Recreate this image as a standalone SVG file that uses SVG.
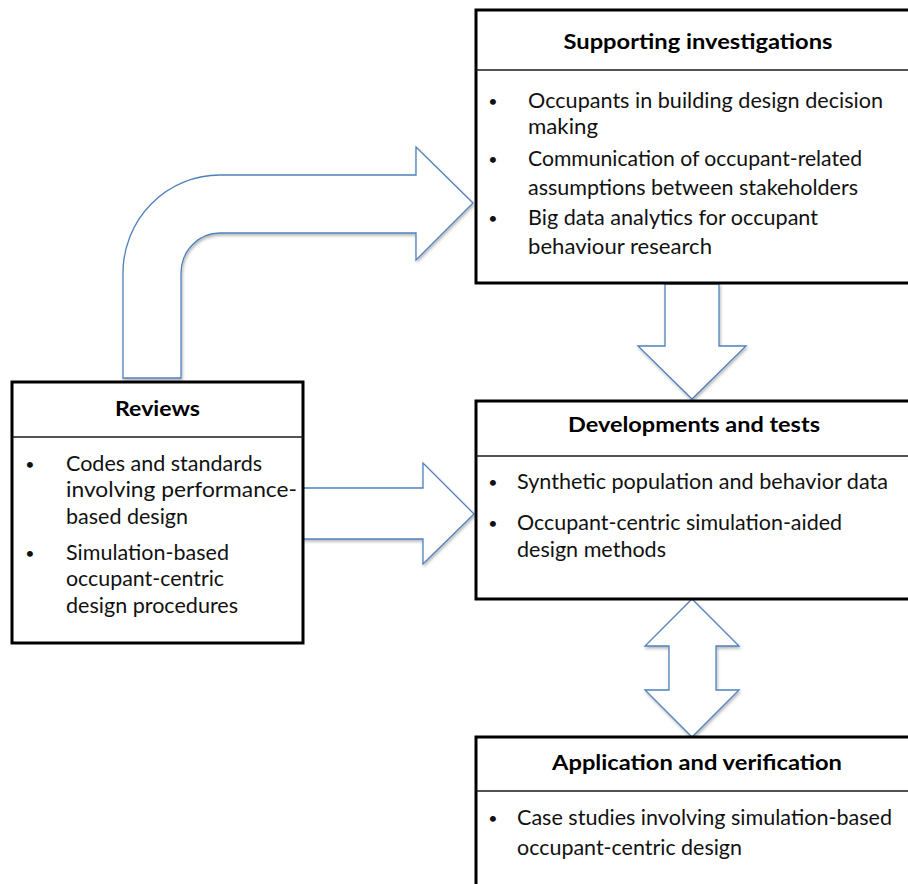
<svg xmlns="http://www.w3.org/2000/svg" width="908" height="884" viewBox="0 0 908 884">
  <style>
    .box { fill: #ffffff; stroke: #000000; stroke-width: 3; }
    .rule { stroke: #1a1a1a; stroke-width: 1.4; fill: none; }
    .title { font-family: Lato, "Open Sans", "Liberation Sans", sans-serif; font-size: 21px; font-weight: bold; fill: #000000; text-anchor: middle; }
    .body { font-family: Lato, "Open Sans", "Liberation Sans", sans-serif; font-size: 21px; fill: #111111; }
    .dot { font-family: Lato, "Open Sans", "Liberation Sans", sans-serif; font-size: 16px; fill: #111111; text-anchor: middle; }
    .arrow { fill: #ffffff; stroke: #4f81bd; stroke-width: 1.3; stroke-linejoin: miter; filter: url(#shade); }
  </style>
  <defs>
    <filter id="shade" x="-10%" y="-10%" width="130%" height="130%">
      <feDropShadow dx="1" dy="2" stdDeviation="1.6" flood-color="#000000" flood-opacity="0.28"/>
    </filter>
  </defs>

  <rect width="908" height="884" fill="#ffffff"/>

  <!-- block arrows between the boxes -->
  <g id="connectors">
    <path class="arrow" d="M123,378 L123,273 A97,98 0 0 1 220,175 L416,175 L416,147 L473,203 L416,260 L416,233 L220,233 A39,40 0 0 0 181,273 L181,378 Z"/>
    <path class="arrow" d="M665,284 L719,284 L719,346 L746,346 L692,399 L638,346 L665,346 Z"/>
    <path class="arrow" d="M303,488 L423,488 L423,463 L474,514 L423,564 L423,539 L303,539 Z"/>
    <path class="arrow" d="M692,599 L739,646 L716,646 L716,690 L739,690 L692,737 L645,690 L669,690 L669,646 L645,646 Z"/>
  </g>

  <!-- Supporting investigations -->
  <g id="supporting">
    <rect class="box" x="476" y="10" width="440" height="273"/>
    <line class="rule" x1="476" y1="70" x2="916" y2="70"/>
    <text class="title" x="698" y="49" textLength="269" lengthAdjust="spacingAndGlyphs">Supporting investigations</text>
    <text class="dot" x="493" y="107">•</text>
    <text class="body" x="528" y="108" textLength="355" lengthAdjust="spacingAndGlyphs">Occupants in building design decision</text>
    <text class="body" x="528" y="134" textLength="70" lengthAdjust="spacingAndGlyphs">making</text>
    <text class="dot" x="493" y="165">•</text>
    <text class="body" x="528" y="166" textLength="334" lengthAdjust="spacingAndGlyphs">Communication of occupant-related</text>
    <text class="body" x="528" y="195" textLength="330" lengthAdjust="spacingAndGlyphs">assumptions between stakeholders</text>
    <text class="dot" x="493" y="224">•</text>
    <text class="body" x="528" y="225" textLength="290" lengthAdjust="spacingAndGlyphs">Big data analytics for occupant</text>
    <text class="body" x="528" y="254" textLength="184" lengthAdjust="spacingAndGlyphs">behaviour research</text>
  </g>

  <!-- Reviews -->
  <g id="reviews">
    <rect class="box" x="12" y="382" width="291" height="261"/>
    <line class="rule" x1="12" y1="437" x2="303" y2="437"/>
    <text class="title" x="157.5" y="416" textLength="85" lengthAdjust="spacingAndGlyphs">Reviews</text>
    <text class="dot" x="30" y="470">•</text>
    <text class="body" x="66" y="471" textLength="196" lengthAdjust="spacingAndGlyphs">Codes and standards</text>
    <text class="body" x="66" y="497" textLength="231" lengthAdjust="spacingAndGlyphs">involving performance-</text>
    <text class="body" x="66" y="524" textLength="122" lengthAdjust="spacingAndGlyphs">based design</text>
    <text class="dot" x="30" y="559">•</text>
    <text class="body" x="66" y="560" textLength="163" lengthAdjust="spacingAndGlyphs">Simulation-based</text>
    <text class="body" x="66" y="586" textLength="158" lengthAdjust="spacingAndGlyphs">occupant-centric</text>
    <text class="body" x="66" y="613" textLength="172" lengthAdjust="spacingAndGlyphs">design procedures</text>
  </g>

  <!-- Developments and tests -->
  <g id="developments">
    <rect class="box" x="476" y="401" width="440" height="198"/>
    <line class="rule" x1="476" y1="456" x2="916" y2="456"/>
    <text class="title" x="694" y="432" textLength="252" lengthAdjust="spacingAndGlyphs">Developments and tests</text>
    <text class="dot" x="493" y="488">•</text>
    <text class="body" x="517" y="489" textLength="371" lengthAdjust="spacingAndGlyphs">Synthetic population and behavior data</text>
    <text class="dot" x="493" y="529">•</text>
    <text class="body" x="517" y="530" textLength="325" lengthAdjust="spacingAndGlyphs">Occupant-centric simulation-aided</text>
    <text class="body" x="517" y="557" textLength="149" lengthAdjust="spacingAndGlyphs">design methods</text>
  </g>

  <!-- Application and verification -->
  <g id="application">
    <rect class="box" x="476" y="737" width="440" height="170"/>
    <line class="rule" x1="476" y1="791" x2="916" y2="791"/>
    <text class="title" x="697" y="770" textLength="290" lengthAdjust="spacingAndGlyphs">Application and verification</text>
    <text class="dot" x="493" y="824">•</text>
    <text class="body" x="517" y="825" textLength="375" lengthAdjust="spacingAndGlyphs">Case studies involving simulation-based</text>
    <text class="body" x="517" y="855" textLength="225" lengthAdjust="spacingAndGlyphs">occupant-centric design</text>
  </g>
</svg>
